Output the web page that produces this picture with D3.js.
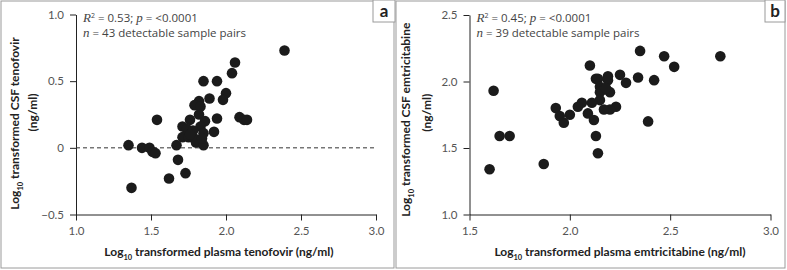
<!DOCTYPE html>
<html>
<head>
<meta charset="utf-8">
<script src="https://cdn.jsdelivr.net/npm/d3@7"></script>
<style>
  body { margin: 0; background: #fff; }
  svg { display: block; font-family: Lato, "Noto Sans", sans-serif; }
</style>
</head>
<body>
<svg id="chart"></svg>
<script>
const width = 787
const height = 270

// panel a: tenofovir (log10 ng/ml)
const tenofovirPlasma = [2.39, 2.06, 2.04, 1.85, 1.94, 2.00, 1.98, 1.89, 1.82, 1.79, 1.83, 1.82, 2.09, 2.12, 2.14,
  1.94, 1.54, 1.76, 1.86, 1.71, 1.83, 1.74, 1.92, 1.85, 1.77, 1.71, 1.75, 1.79, 1.80, 1.85, 1.67, 1.35, 1.44,
  1.49, 1.51, 1.53, 1.68, 1.73, 1.62, 1.37, 1.78, 1.76, 1.84]
const tenofovirCSF = [0.73, 0.64, 0.56, 0.50, 0.50, 0.41, 0.36, 0.37, 0.35, 0.32, 0.31, 0.25, 0.23, 0.21, 0.21,
  0.22, 0.21, 0.21, 0.20, 0.16, 0.16, 0.14, 0.12, 0.11, 0.11, 0.08, 0.08, 0.07, 0.04, 0.02, 0.02, 0.02, 0.00,
  0.00, -0.03, -0.04, -0.09, -0.19, -0.23, -0.30, 0.13, 0.10, 0.07]

// panel b: emtricitabine (log10 ng/ml)
const emtricitabinePlasma = [2.75, 2.35, 2.47, 2.52, 2.10, 2.25, 2.34, 2.42, 2.28, 2.13, 2.14, 2.19, 2.19, 2.15,
  2.17, 2.20, 2.15, 2.15, 2.11, 2.06, 2.04, 2.23, 2.20, 2.17, 1.93, 1.95, 2.00, 1.97, 2.09, 2.12, 2.39, 2.13,
  2.14, 1.87, 1.62, 1.65, 1.70, 1.60, 2.18]
const emtricitabineCSF = [2.19, 2.23, 2.19, 2.11, 2.12, 2.05, 2.03, 2.01, 1.99, 2.02, 2.02, 2.04, 2.01, 1.96,
  1.94, 1.92, 1.92, 1.86, 1.84, 1.84, 1.81, 1.81, 1.79, 1.79, 1.80, 1.74, 1.75, 1.69, 1.76, 1.71, 1.70, 1.59,
  1.46, 1.38, 1.93, 1.59, 1.59, 1.34, 1.95]

const xTicksA = [1.0, 1.5, 2.0, 2.5, 3.0]
const yTicksA = [-0.5, 0, 0.5, 1.0]
const xTicksB = [1.5, 2.0, 2.5, 3.0]
const yTicksB = [1.0, 1.5, 2.0, 2.5]

const panels = [
  {
    label: "a", box: [1, 1, 393, 267], labelBox: [373, 0, 22, 22],
    plot: {left: 76, right: 376, top: 14.5, bottom: 214.5},
    xDomain: [1, 3], yDomain: [-0.5, 1], xTicks: xTicksA, yTicks: yTicksA,
    yFmt: d => d === 0 ? "0" : d3.format(".1f")(d),
    xs: tenofovirPlasma, ys: tenofovirCSF,
    r2: "0.53", n: 43, zeroLine: true,
    xTitle: "transformed plasma tenofovir (ng/ml)", xTitleX: 219,
    yTitle: "transformed CSF tenofovir", yTitleX: [19, 37], yShift: 9
  },
  {
    label: "b", box: [396, 1, 389, 267], labelBox: [765, 0, 20, 22],
    plot: {left: 469.5, right: 770.5, top: 15, bottom: 214.5},
    xDomain: [1.5, 3], yDomain: [1, 2.5], xTicks: xTicksB, yTicks: yTicksB,
    yFmt: d3.format(".1f"),
    xs: emtricitabinePlasma, ys: emtricitabineCSF,
    r2: "0.45", n: 39, zeroLine: false,
    xTitle: "transformed plasma emtricitabine (ng/ml)", xTitleX: 620,
    yTitle: "transformed CSF emtricitabine", yTitleX: [410, 431], yShift: 5
  }
]

const svg = d3.select("#chart")
  .attr("width", width)
  .attr("height", height)

panels.forEach(drawPanel)

function logTitle(text, rest) {
  text.append("tspan").text("Log")
  text.append("tspan").attr("font-size", 7.5).attr("dy", 4).text("10")
  text.append("tspan").attr("dy", -4).text(" " + rest)
}

function drawPanel(p) {
  const g = svg.append("g")

  // frame + label box
  g.append("rect")
    .attr("x", p.box[0]).attr("y", p.box[1])
    .attr("width", p.box[2]).attr("height", p.box[3])
    .attr("fill", "none").attr("stroke", "#9a9a9a")
  g.append("rect")
    .attr("x", p.labelBox[0]).attr("y", p.labelBox[1])
    .attr("width", p.labelBox[2]).attr("height", p.labelBox[3])
    .attr("fill", "#fff").attr("stroke", "#9a9a9a")
  g.append("text")
    .attr("x", p.labelBox[0] + p.labelBox[2] / 2)
    .attr("y", p.labelBox[1] + 17)
    .attr("text-anchor", "middle")
    .attr("font-size", 17).attr("font-weight", "bold")
    .attr("fill", "#222")
    .text(p.label)

  const x = d3.scaleLinear().domain(p.xDomain).range([p.plot.left, p.plot.right])
  const y = d3.scaleLinear().domain(p.yDomain).range([p.plot.bottom, p.plot.top])

  const xAxis = g.append("g")
    .attr("transform", `translate(0,${p.plot.bottom})`)
    .call(d3.axisBottom(x).tickValues(p.xTicks).tickFormat(d3.format(".1f")).tickSize(6).tickPadding(6).tickSizeOuter(0))
  const yAxis = g.append("g")
    .attr("transform", `translate(${p.plot.left},0)`)
    .call(d3.axisLeft(y).tickValues(p.yTicks).tickFormat(p.yFmt).tickSize(6).tickPadding(6).tickSizeOuter(0))

  ;[xAxis, yAxis].forEach(a => {
    a.attr("font-family", null).attr("font-size", 11.5)
    a.selectAll("path, line").attr("stroke", "#222")
    a.selectAll("text").attr("fill", "#555")
  })

  if (p.zeroLine) {
    g.append("line")
      .attr("x1", x(p.xDomain[0])).attr("x2", x(p.xDomain[1]))
      .attr("y1", y(0)).attr("y2", y(0))
      .attr("stroke", "#333").attr("stroke-dasharray", "4,3")
  }

  // points
  g.append("g")
    .selectAll("circle")
    .data(p.xs.map((v, i) => [v, p.ys[i]]))
    .join("circle")
    .attr("cx", d => x(d[0]))
    .attr("cy", d => y(d[1]))
    .attr("r", 5.3)
    .attr("fill", "#1b1b1b")

  // stats note
  const note = g.append("text")
    .attr("x", p.plot.left + 7).attr("y", 22)
    .attr("font-family", "'Open Sans', sans-serif")
    .attr("font-size", 11.5).attr("fill", "#444")
  note.append("tspan").attr("font-style", "italic").attr("font-family", "Liberation Serif").attr("font-size", 13).text("R")
  note.append("tspan").attr("font-size", 7).attr("dy", -4).text("2")
  note.append("tspan").attr("dy", 4).text(" = " + p.r2 + "; ")
  note.append("tspan").attr("font-style", "italic").attr("font-family", "Liberation Serif").attr("font-size", 13).text("p")
  note.append("tspan").text(" = <0.0001")

  const note2 = g.append("text")
    .attr("x", p.plot.left + 7).attr("y", 37)
    .attr("font-family", "'Open Sans', sans-serif")
    .attr("font-size", 11.5).attr("fill", "#444")
  note2.append("tspan").attr("font-style", "italic").attr("font-family", "Liberation Serif").attr("font-size", 13).text("n")
  note2.append("tspan").text(" = " + p.n + " detectable sample pairs")

  // axis titles
  const xt = g.append("text")
    .attr("x", p.xTitleX).attr("y", 256)
    .attr("text-anchor", "middle")
    .attr("font-size", 12).attr("font-weight", "bold").attr("fill", "#222")
  logTitle(xt, p.xTitle)

  const cy = (p.plot.top + p.plot.bottom) / 2
  const yt = g.append("text")
    .attr("transform", `translate(${p.yTitleX[0]},${cy + p.yShift}) rotate(-90)`)
    .attr("text-anchor", "middle")
    .attr("font-size", 12).attr("font-weight", "bold").attr("fill", "#222")
  logTitle(yt, p.yTitle)
  g.append("text")
    .attr("transform", `translate(${p.yTitleX[1]},${cy - 2}) rotate(-90)`)
    .attr("text-anchor", "middle")
    .attr("font-size", 12).attr("font-weight", "bold").attr("fill", "#222")
    .text("(ng/ml)")
}
</script>
</body>
</html>
